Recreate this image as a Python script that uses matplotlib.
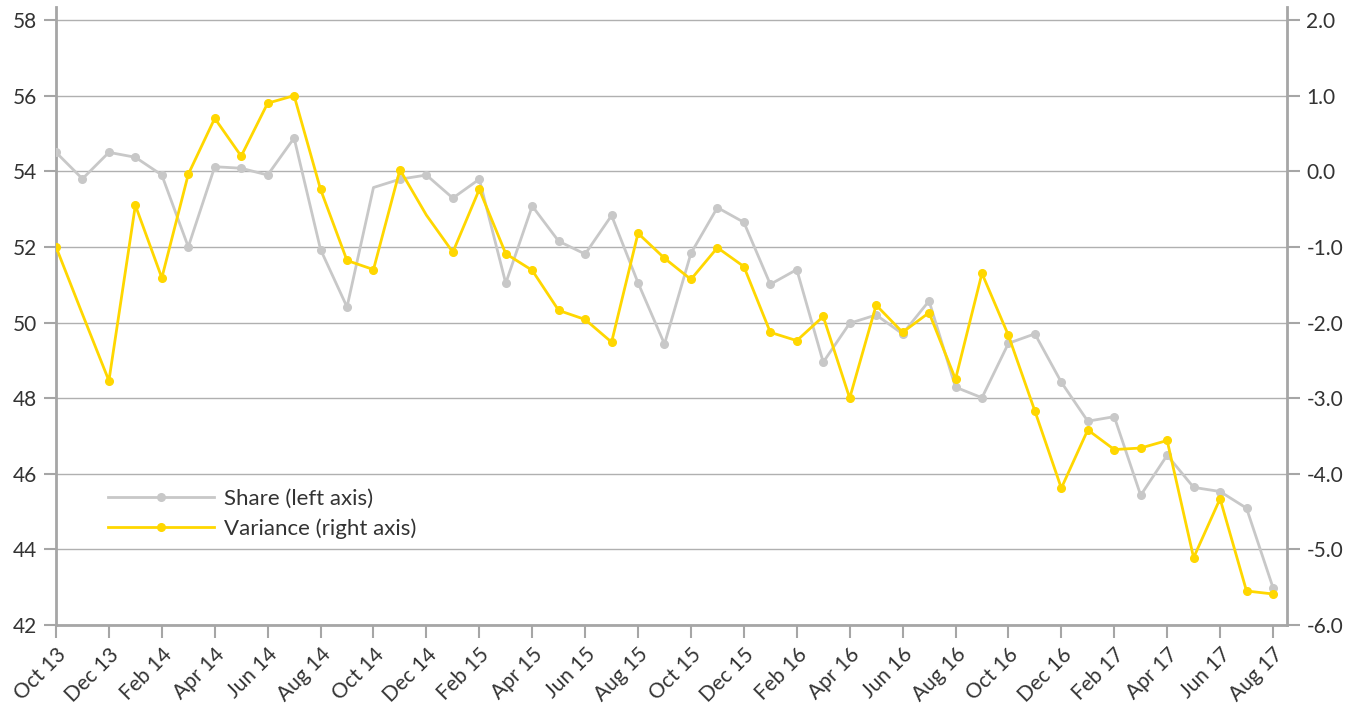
import numpy as np
import matplotlib
matplotlib.use('Agg')
import matplotlib.pyplot as plt
from matplotlib.ticker import FuncFormatter

plt.rcParams['font.family'] = ['Lato', 'DejaVu Sans']

# monthly data, Oct 13 .. Aug 17
months = ['Oct 13', 'Nov 13', 'Dec 13', 'Jan 14', 'Feb 14', 'Mar 14', 'Apr 14',
          'May 14', 'Jun 14', 'Jul 14', 'Aug 14', 'Sep 14', 'Oct 14', 'Nov 14',
          'Dec 14', 'Jan 15', 'Feb 15', 'Mar 15', 'Apr 15', 'May 15', 'Jun 15',
          'Jul 15', 'Aug 15', 'Sep 15', 'Oct 15', 'Nov 15', 'Dec 15', 'Jan 16',
          'Feb 16', 'Mar 16', 'Apr 16', 'May 16', 'Jun 16', 'Jul 16', 'Aug 16',
          'Sep 16', 'Oct 16', 'Nov 16', 'Dec 16', 'Jan 17', 'Feb 17', 'Mar 17',
          'Apr 17', 'May 17', 'Jun 17', 'Jul 17', 'Aug 17']

share = [54.5, 53.8, 54.5, 54.37, 53.9, 52.0, 54.12, 54.08, 53.9, 54.88,
         51.93, 50.41, 53.57, 53.79, 53.9, 53.29, 53.79, 51.04, 53.08, 52.15,
         51.81, 52.83, 51.05, 49.43, 51.83, 53.04, 52.65, 51.01, 51.4, 48.95,
         49.98, 50.2, 49.7, 50.57, 48.29, 48.01, 49.45, 49.7, 48.42, 47.39,
         47.51, 45.43, 46.49, 45.64, 45.53, 45.09, 42.99]

variance = [-1.0, -1.89, -2.77, -0.45, -1.41, -0.04, 0.70, 0.20, 0.90, 1.0,
            -0.24, -1.18, -1.30, 0.02, -0.58, -1.07, -0.24, -1.09, -1.31, -1.84,
            -1.96, -2.26, -0.82, -1.15, -1.43, -1.01, -1.26, -2.13, -2.24, -1.92,
            -3.0, -1.77, -2.13, -1.87, -2.75, -1.35, -2.17, -3.17, -4.19, -3.42,
            -3.68, -3.66, -3.56, -5.11, -4.33, -5.55, -5.59]

# points drawn without a marker in the original
share_hidden = [12]
variance_hidden = [1, 14]

share_marks = [i for i in range(len(share)) if i not in share_hidden]
variance_marks = [i for i in range(len(variance)) if i not in variance_hidden]

axis_col = '#a6a6a6'
text_col = '#333333'

fig = plt.figure(figsize=(13.62, 7.06), dpi=100)
ax = fig.add_axes([56 / 1362, 81 / 706, 1231 / 1362, 618 / 706])
ax2 = ax.twinx()

x = np.arange(len(months))
l1, = ax.plot(x, share, color='#c8c8c8', lw=2, marker='o', ms=5.5,
              markevery=share_marks, label='Share (left axis)', zorder=3)
l2, = ax2.plot(x, variance, color='#ffd700', lw=2, marker='o', ms=5.5,
               markevery=variance_marks, label='Variance (right axis)', zorder=3)

ax.set_xlim(0, 46.53)
ax.set_ylim(42, 58.344)
ax2.set_ylim(-6, 2.172)
ax.set_yticks(range(42, 59, 2))
ax2.set_yticks(np.arange(-6, 2.1, 1))
ax2.yaxis.set_major_formatter(FuncFormatter(lambda v, p: '{:.1f}'.format(v)))
ax.grid(axis='y', color='#b0b0b0', lw=1)
ax.set_axisbelow(True)

ax.set_xticks(x[::2])
ax.set_xticklabels(months[::2], rotation=45, ha='right', va='top',
                   rotation_mode='anchor')

for s in ['top', 'right']:
    ax.spines[s].set_visible(False)
for s in ['top', 'left', 'bottom']:
    ax2.spines[s].set_visible(False)
for sp in [ax.spines['left'], ax.spines['bottom'], ax2.spines['right']]:
    sp.set_color(axis_col)
    sp.set_linewidth(2)

ax.tick_params(axis='both', direction='out', length=9, width=1.5,
               color=axis_col, labelsize=15, labelcolor=text_col, pad=5)
ax2.tick_params(axis='y', direction='out', length=9, width=1.5,
                color=axis_col, labelsize=15, labelcolor=text_col, pad=5)

ax2.legend([l1, l2], ['Share (left axis)', 'Variance (right axis)'],
           loc='upper left', bbox_to_anchor=(0.042, 0.221), frameon=False,
           borderpad=0, borderaxespad=0, handlelength=4.8, handletextpad=0.45,
           labelspacing=0.45, fontsize=16, labelcolor=text_col)

fig.savefig('out.png', dpi=100)
